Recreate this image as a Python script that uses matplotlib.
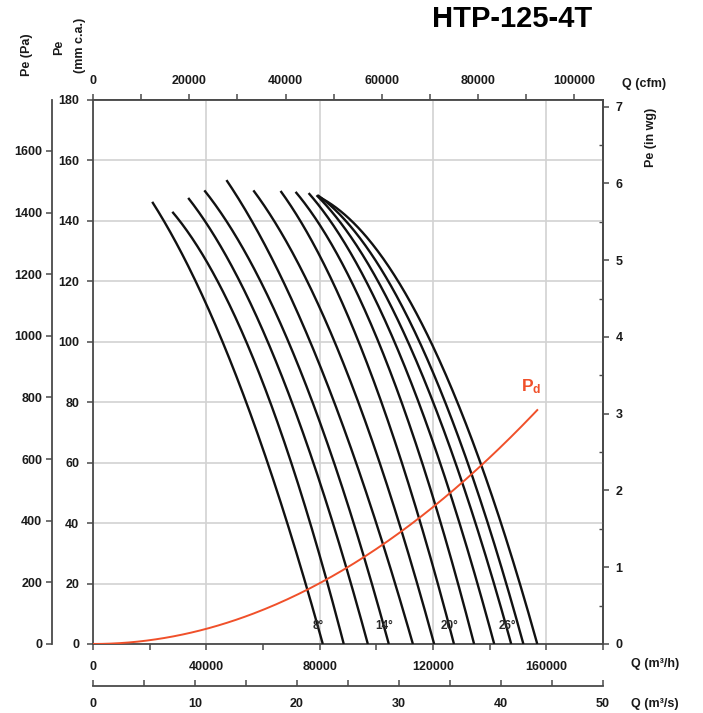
import numpy as np
import matplotlib
matplotlib.use('Agg')
import matplotlib.pyplot as plt

plt.rcParams['font.family'] = ['Liberation Sans', 'DejaVu Sans']
plt.rcParams['mathtext.fontset'] = 'custom'
plt.rcParams['mathtext.rm'] = 'Liberation Sans'
plt.rcParams['mathtext.bf'] = 'Liberation Sans:bold'

# ---------------- data ----------------
title = 'HTP-125-4T'
angles = [8, 10, 12, 14, 16, 18, 20, 22, 24, 26, 28, 30]
labelled_angles = [8, 14, 20, 26]

# pressure (mm c.a.) of first point of each curve, then common levels
p_start = [146.3, 143.0, 147.6, 150.1, 153.5, 150.1, 149.9, 149.6, 149.2, 148.5, 148.5, 148.0]
p_levels = [140, 120, 100, 80, 60, 40, 20, 0]

# flow (m3/h) at p_start followed by p_levels
q_08 = [20900, 23700, 33700, 44000, 54400, 63300, 69700, 75400, 81100]
q_10 = [28000, 29700, 42600, 53200, 62700, 70900, 77200, 82900, 88500]
q_12 = [33600, 37500, 51100, 60900, 70300, 78600, 85200, 91100, 97000]
q_14 = [39300, 44200, 59100, 68600, 77400, 85700, 92400, 98400, 104400]
q_16 = [47100, 53800, 67400, 76200, 85100, 93300, 100400, 106700, 112900]
q_18 = [56600, 62700, 76600, 84500, 93300, 101600, 108400, 114300, 120400]
q_20 = [66200, 72600, 85100, 92700, 101200, 109800, 116200, 121800, 127400]
q_22 = [71500, 78200, 91000, 99200, 108600, 117500, 123600, 129100, 134500]
q_24 = [76100, 83500, 95700, 105100, 115200, 123400, 130000, 135800, 141600]
q_26 = [78900, 87400, 99800, 109800, 120500, 128700, 135500, 141600, 147600]
q_28 = [79300, 91000, 103400, 114000, 124600, 132900, 139700, 145800, 151900]
q_30 = [79600, 94500, 107300, 118100, 128700, 137000, 144100, 150500, 156800]
curves_q = [q_08, q_10, q_12, q_14, q_16, q_18, q_20, q_22, q_24, q_26, q_28, q_30]

# dynamic pressure curve
pd_q = [0, 20000, 40000, 60000, 80000, 100000, 120000, 140000, 156800]
pd_p = [0, 1.3, 5.0, 11.3, 20.1, 31.5, 45.3, 61.7, 77.4]

mm_ticks = [0, 20, 40, 60, 80, 100, 120, 140, 160, 180]
pa_ticks = [0, 200, 400, 600, 800, 1000, 1200, 1400, 1600]
inwg_ticks = [0, 1, 2, 3, 4, 5, 6, 7]
m3h_ticks = [0, 40000, 80000, 120000, 160000]
cfm_ticks = [0, 20000, 40000, 60000, 80000, 100000]
m3s_ticks = [0, 10, 20, 30, 40, 50]


# ---------------- helpers (rendering only) ----------------
def smooth_curve(qs, ps, deg=2, n=200):
    """least-squares polynomial P(Q) through the read points, ends weighted."""
    qs = np.asarray(qs, float)
    ps = np.asarray(ps, float)
    w = np.ones_like(ps)
    w[0] = w[-1] = 10.0
    coef = np.polyfit(qs, ps, deg, w=w)
    qq = np.linspace(qs[0], qs[-1], n)
    pp = np.polyval(coef, qq)
    # pin the ends exactly on the read points
    pp += (ps[0] - pp[0]) * (qs[-1] - qq) / (qs[-1] - qs[0]) \
        + (ps[-1] - pp[-1]) * (qq - qs[0]) / (qs[-1] - qs[0])
    return qq, pp


W, H = 703, 713
fig = plt.figure(figsize=(W / 100, H / 100), dpi=100)
ax = fig.add_axes([93 / W, 1 - 644 / H, 510 / W, 544 / H])
ax.set_xlim(0, 180000)
ax.set_ylim(0, 180)

spine_c = '#4a4a4a'
grid_c = '#d2d2d2'
txt_c = '#1a1a1a'
orange = '#f0502a'
fs = 9

for s in ax.spines.values():
    s.set_color(spine_c)
    s.set_linewidth(1.3)

ax.set_xticks(m3h_ticks)
ax.set_xticks([20000, 60000, 100000, 140000, 180000], minor=True)
ax.set_yticks(mm_ticks)
ax.grid(True, color=grid_c, linewidth=1.2, zorder=0)
ax.set_axisbelow(True)
ax.tick_params(axis='both', which='both', color=spine_c, labelcolor=txt_c,
               labelsize=fs, direction='out', length=4, width=1.1)
ax.tick_params(axis='x', pad=8)
ax.tick_params(axis='y', pad=6)
ax.set_xticklabels([f'{v:d}' for v in m3h_ticks], fontweight='bold')
ax.set_yticklabels([f'{v:d}' for v in mm_ticks], fontweight='bold')

# ---- secondary axes ----
top = ax.secondary_xaxis('top', functions=(lambda q: q / 1.699, lambda c: c * 1.699))
top.set_xticks(cfm_ticks)
top.set_xticks([10000, 30000, 50000, 70000, 90000], minor=True)
top.set_xticklabels([f'{v:d}' for v in cfm_ticks], fontweight='bold')
top.tick_params(which='both', color=spine_c, labelcolor=txt_c, labelsize=fs,
                direction='out', length=4, width=1.1, pad=5)

bot = ax.secondary_xaxis(-0.0772, functions=(lambda q: q / 3600, lambda s: s * 3600))
bot.set_xticks(m3s_ticks)
bot.set_xticks([5, 15, 25, 35, 45], minor=True)
bot.set_xticklabels([f'{v:d}' for v in m3s_ticks], fontweight='bold')
bot.tick_params(which='both', color=spine_c, labelcolor=txt_c, labelsize=fs,
                direction='in', length=4, width=1.1, pad=9)

pa = ax.secondary_yaxis(-0.0804, functions=(lambda m: m * 9.80665, lambda p: p / 9.80665))
pa.set_yticks(pa_ticks)
pa.set_yticklabels([f'{v:d}' for v in pa_ticks], fontweight='bold')
pa.tick_params(which='both', color=spine_c, labelcolor=txt_c, labelsize=fs,
               direction='out', length=4, width=1.1, pad=3)

wg = ax.secondary_yaxis('right', functions=(lambda m: m / 25.4, lambda w: w * 25.4))
wg.set_yticks(inwg_ticks)
wg.set_yticks([0.5, 1.5, 2.5, 3.5, 4.5, 5.5, 6.5], minor=True)
wg.set_yticklabels([f'{v:d}' for v in inwg_ticks], fontweight='bold')
wg.tick_params(which='major', color=spine_c, labelcolor=txt_c, labelsize=fs,
               direction='out', length=4, width=1.1, pad=5)
wg.tick_params(which='minor', color=spine_c, direction='in', length=3, width=1.0)

for sa in (top, bot, pa, wg):
    for s in sa.spines.values():
        s.set_color(spine_c)
        s.set_linewidth(1.3)

# ---- curves ----
for ang, qs, p0 in zip(angles, curves_q, p_start):
    ps = [p0] + p_levels
    xs, ys = smooth_curve(qs, ps)
    ax.plot(xs, ys, color='#111111', linewidth=1.7, solid_capstyle='butt', zorder=3)
    if ang in labelled_angles:
        ax.text(qs[-1] - 1500, 6, f'{ang}°', fontsize=8.5, fontweight='bold',
                color='#2a2a2a', ha='center', va='center', zorder=4)

pq = np.linspace(pd_q[0], pd_q[-1], 200)
pp = np.polyval(np.polyfit(pd_q, pd_p, 2), pq)
ax.plot(pq, pp, color=orange, linewidth=1.4, zorder=3)
ax.text(pd_q[-1] - 2000, 85, r'$\mathbf{P_d}$', fontsize=12.5, color=orange,
        ha='center', va='center')

# ---- labels ----
fig.text(512 / W, 1 - 19 / H, title, fontsize=21, fontweight='bold',
         ha='center', va='center', color='#000000')
fig.text(27 / W, 1 - 55 / H, 'Pe (Pa)', rotation=90, fontsize=9, fontweight='bold',
         ha='center', va='center', color=txt_c)
fig.text(59 / W, 1 - 47 / H, 'Pe', rotation=90, fontsize=9, fontweight='bold',
         ha='center', va='center', color=txt_c)
fig.text(80 / W, 1 - 45 / H, '(mm c.a.)', rotation=90, fontsize=9, fontweight='bold',
         ha='center', va='center', color=txt_c)
fig.text(651 / W, 1 - 137 / H, 'Pe (in wg)', rotation=90, fontsize=9, fontweight='bold',
         ha='center', va='center', color=txt_c)
fig.text(622 / W, 1 - 84 / H, 'Q (cfm)', fontsize=fs, fontweight='bold',
         ha='left', va='center', color=txt_c)
fig.text(631 / W, 1 - 664 / H, 'Q (m³/h)', fontsize=fs, fontweight='bold',
         ha='left', va='center', color=txt_c)
fig.text(631 / W, 1 - 704 / H, 'Q (m³/s)', fontsize=fs, fontweight='bold',
         ha='left', va='center', color=txt_c)

fig.savefig('out.png', dpi=100)
